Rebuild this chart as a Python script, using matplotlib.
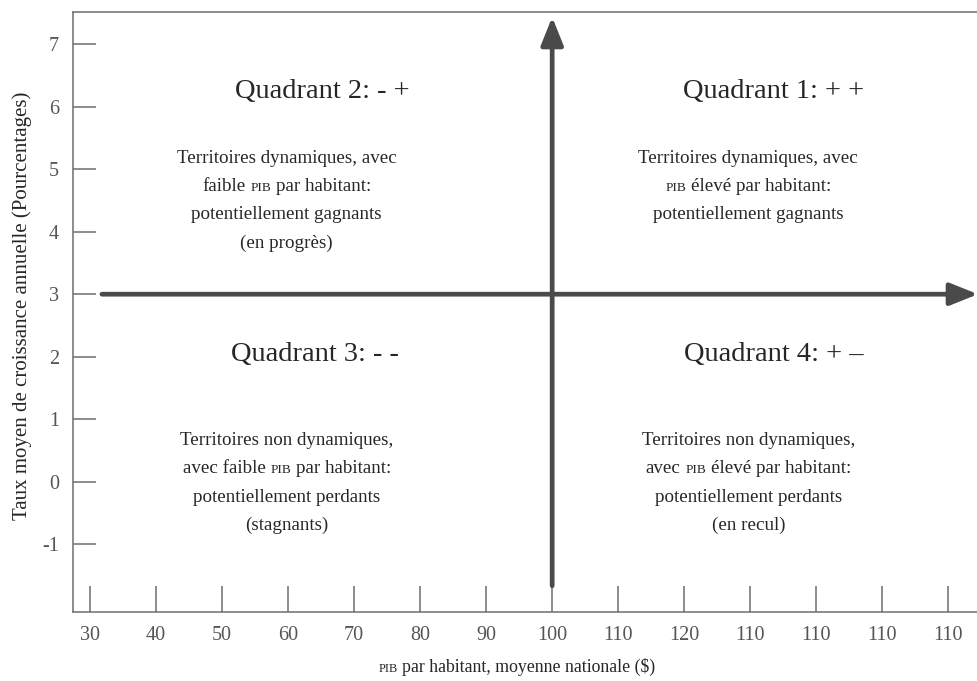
import matplotlib.pyplot as plt
from matplotlib.offsetbox import TextArea, HPacker, AnnotationBbox

plt.rcParams['font.family'] = ['Liberation Serif', 'DejaVu Serif']

# tick labels as printed on the original figure
x_labels = ['30', '40', '50', '60', '70', '80', '90', '100',
            '110', '120', '110', '110', '110', '110']
y_values = [-1, 0, 1, 2, 3, 4, 5, 6, 7]
x_pos = list(range(len(x_labels)))

# the two axes cross at 100 (national mean) and 3 %
cross_x = x_labels.index('100')
cross_y = 3

titles = ['Quadrant 1: + +', 'Quadrant 2: - +', 'Quadrant 3: - -', 'Quadrant 4: + –']
bodies = [
    ['Territoires dynamiques, avec', '{PIB} élevé par habitant:', 'potentiellement gagnants'],
    ['Territoires dynamiques, avec', 'faible {PIB} par habitant:', 'potentiellement gagnants', '(en progrès)'],
    ['Territoires non dynamiques,', 'avec faible {PIB} par habitant:', 'potentiellement perdants', '(stagnants)'],
    ['Territoires non dynamiques,', 'avec {PIB} élevé par habitant:', 'potentiellement perdants', '(en recul)'],
]
# where each block sits (data coords): title centre, body centre x, first body line y
title_xy = [(10.35, 6.24), (3.52, 6.24), (3.41, 2.04), (10.35, 2.04)]
body_xy = [(9.97, 5.18), (2.98, 5.18), (2.98, 0.66), (9.97, 0.66)]
line_step = 0.455

ink = '#262626'
grey = '#6e6e6e'
arrow_col = '#4a4a4a'
body_size = 13.7


def smallcaps_line(line, size, color):
    # "{PIB}" is set in small capitals
    parts = line.split('{PIB}')
    kids = []
    for i, part in enumerate(parts):
        if i > 0:
            kids.append(TextArea('PIB', textprops=dict(size=size * 0.7, color=color)))
        if part.strip():
            kids.append(TextArea(part.strip(), textprops=dict(size=size, color=color)))
    return HPacker(children=kids, align='baseline', pad=0, sep=size * 0.25)


fig = plt.figure(figsize=(9.78, 6.81), dpi=100)
ax = fig.add_axes([73 / 978, 1 - 612 / 681, 1 - 73 / 978, 600 / 681])

ax.set_xlim(-0.258, 13.45)
ax.set_ylim(-2.09, 7.52)

ax.set_xticks(x_pos)
ax.set_xticklabels(x_labels)
ax.set_yticks(y_values)
ax.set_yticklabels([str(v) for v in y_values])

ax.tick_params(axis='x', direction='in', length=18.7, width=1.1, color=grey,
               labelsize=14.5, labelcolor='#555555', pad=10)
ax.tick_params(axis='y', direction='in', length=16.5, width=1.1, color=grey,
               labelsize=14.5, labelcolor='#555555', pad=10)

for side in ['left', 'top', 'bottom']:
    ax.spines[side].set_color(grey)
    ax.spines[side].set_linewidth(1.1)
ax.spines['right'].set_visible(False)

# the two crossing arrows
arrow = dict(arrowstyle='-|>,head_length=0.5,head_width=0.2', mutation_scale=34,
             lw=3.4, color=arrow_col, shrinkA=0, shrinkB=0)
ax.annotate('', xy=(13.45, cross_y), xytext=(0.18, cross_y),
            arrowprops=arrow, annotation_clip=False)
ax.annotate('', xy=(cross_x, 7.44), xytext=(cross_x, -1.67),
            arrowprops=arrow, annotation_clip=False)

for title, (tx, ty) in zip(titles, title_xy):
    ax.text(tx, ty, title, ha='center', va='center', fontsize=20.5, color=ink)

for lines, (bx, by) in zip(bodies, body_xy):
    for k, line in enumerate(lines):
        box = smallcaps_line(line, body_size, ink)
        ab = AnnotationBbox(box, (bx, by - k * line_step), frameon=False,
                            box_alignment=(0.5, 0.5), pad=0)
        ax.add_artist(ab)

fig.text(22 / 978, 1 - 306 / 681, 'Taux moyen de croissance annuelle (Pourcentages)',
         rotation=90, ha='center', va='center', fontsize=15, color=ink)

xlab = smallcaps_line('{PIB}  par habitant, moyenne nationale ($)', 12.8, ink)
fig.add_artist(AnnotationBbox(xlab, (517 / 978, 1 - 667 / 681), xycoords='figure fraction',
                              frameon=False, box_alignment=(0.5, 0.5), pad=0))

fig.savefig('out.png', dpi=100)
